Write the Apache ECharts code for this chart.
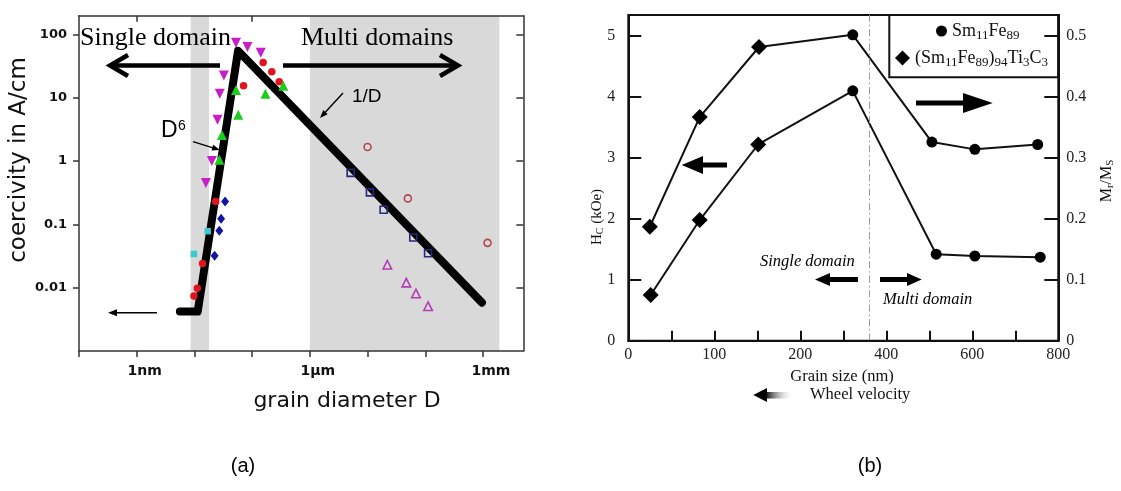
<!DOCTYPE html>
<html><head><meta charset="utf-8">
<script src="https://cdn.jsdelivr.net/npm/echarts@6/dist/echarts.min.js"></script>
<style>html,body{margin:0;padding:0;background:#fff}#c{width:1121px;height:491px}</style>
</head><body><div id="c"></div>
<script>
// ---------------- Panel (a): coercivity vs grain diameter (log-log) ----------------
const aXTickValues = [1e-10, 1e-9, 1e-8, 1e-7, 1e-6, 1e-5, 1e-4, 1e-3];
const aXLabelValues = [1e-9, 1e-6, 1e-3];
const aXLabels = ['1nm', '1µm', '1mm'];
const aTopTickValues = [1e-9, 1e-7];
const aYTickValues = [0.01, 0.1, 1, 10, 100];
const aYLabels = ['0.01', '0.1', '1', '10', '100'];
const shadedBands = [[8.6e-9, 1.79e-8], [1e-6, 1.92e-3]];
const modelLine = [[5.6e-9, 0.0042], [1.14e-8, 0.0042], [5.7e-8, 55], [9.6e-4, 0.0058]];
const magentaDown = [[5.25e-8, 74], [8.3e-8, 63], [1.41e-7, 51], [3.24e-8, 22.4], [2.75e-8, 11.5], [2.51e-8, 4.5], [2.0e-8, 1.0], [1.58e-8, 0.45]];
const redDots = [[7.1e-8, 15.5], [1.55e-7, 36], [2.19e-7, 25.7], [2.95e-7, 17.8], [2.34e-8, 0.23], [1.38e-8, 0.024], [1.12e-8, 0.0098], [9.8e-9, 0.0074]];
const greenUp = [[5.25e-8, 13.2], [5.75e-8, 5.4], [3.0e-8, 2.57], [2.7e-8, 1.05], [1.7e-7, 11.5], [3.47e-7, 15.5]];
const blueDiamonds = [[3.4e-8, 0.23], [2.9e-8, 0.123], [2.7e-8, 0.079], [2.24e-8, 0.032]];
const cyanSquares = [[1.7e-8, 0.078], [9.8e-9, 0.034]];
const openSquares = [[5.1e-6, 0.65], [1.1e-5, 0.32], [1.9e-5, 0.17], [6.2e-5, 0.062], [1.12e-4, 0.035]];
const openCircles = [[1.0e-5, 1.66], [5.0e-5, 0.257], [1.2e-3, 0.051]];
const openTriangles = [[2.2e-5, 0.023], [4.7e-5, 0.012], [6.9e-5, 0.0081], [1.12e-4, 0.0051]];

// ---------------- Panel (b): Hc and Mr/Ms vs grain size ----------------
const bXLabelPos = [0, 100, 200, 300, 400, 500];
const bXLabels = ['0', '100', '200', '400', '600', '800'];
const bLeftTicks = [0, 1, 2, 3, 4, 5];
const bRightTicks = [0, 0.1, 0.2, 0.3, 0.4, 0.5];
const mrX = [25, 83, 152, 261, 353, 403, 476];
const mrY = [0.187, 0.367, 0.482, 0.502, 0.326, 0.314, 0.322];
const hcX = [26, 83, 151, 261, 358, 403, 479];
const hcY = [0.75, 1.98, 3.22, 4.10, 1.42, 1.39, 1.37];
const alloyOf = ['ti', 'ti', 'ti', 'sm', 'sm', 'sm', 'sm'];
const domainBoundary = 280;
const nameSm = 'Sm11Fe89';
const nameTi = '(Sm11Fe89)94Ti3C3';

const sans = 'DejaVu Sans';
const serif = 'Liberation Serif';
const near = (a, b) => Math.abs(Math.log10(a) - Math.log10(b)) < 0.01;

function pick(xs, ys, kind) {
  const out = [];
  xs.forEach((x, i) => { if (alloyOf[i] === kind) out.push([x, ys[i]]); });
  return out;
}
function head(x1, y1, x2, y2, len, hw) {
  const dx = x2 - x1, dy = y2 - y1, L = Math.hypot(dx, dy);
  const ux = dx / L, uy = dy / L, bx = x2 - ux * len, by = y2 - uy * len;
  return [[x2, y2], [bx - uy * hw, by + ux * hw], [bx + uy * hw, by - ux * hw]];
}
function thinArrow(x1, y1, x2, y2, w, len, hw) {
  const L = Math.hypot(x2 - x1, y2 - y1);
  const ex = x2 - (x2 - x1) / L * len * 0.8, ey = y2 - (y2 - y1) / L * len * 0.8;
  return [
    { type: 'line', shape: { x1: x1, y1: y1, x2: ex, y2: ey }, style: { stroke: '#000', lineWidth: w } },
    { type: 'polygon', shape: { points: head(x1, y1, x2, y2, len, hw) }, style: { fill: '#000' } }
  ];
}
function txt(x, y, text, font, opts) {
  return Object.assign({ type: 'text', x: x, y: y, style: Object.assign({
    text: text, font: font, fill: '#000', align: 'left', verticalAlign: 'middle',
    textAlign: 'left', textVerticalAlign: 'middle' }, (opts && opts.style) || {}) }, (opts && opts.el) || {});
}

const axisLineA = { show: true, onZero: false, lineStyle: { color: '#333', width: 1.5 } };
const axisLineB = { show: true, onZero: false, lineStyle: { color: '#111', width: 2 } };

const chart = echarts.init(document.getElementById('c'), null, { renderer: 'canvas' });

const scatterA = (name, data, symbol, size, color, extra) => Object.assign({
  name: name, type: 'scatter', xAxisIndex: 0, yAxisIndex: 0, z: 3, data: data,
  symbol: symbol, symbolSize: size, itemStyle: { color: color, opacity: 1 }, silent: true
}, extra || {});
const hollow = (c) => ({ color: 'transparent', borderColor: c, borderWidth: 1.6, opacity: 1 });

const graphicEls = [
  // ---- panel (a) annotations ----
  txt(80, 38, 'Single domain', '26px "Liberation Serif"'),
  txt(301, 38, 'Multi domains', '26px "Liberation Serif"'),
  { type: 'polyline', shape: { points: [[220, 65.5], [112, 65.5]] }, style: { stroke: '#000', lineWidth: 4.5, fill: null } },
  { type: 'polyline', shape: { points: [[128, 55], [110, 65.5], [128, 76]] }, style: { stroke: '#000', lineWidth: 4.5, fill: null, lineJoin: 'miter' } },
  { type: 'polyline', shape: { points: [[283, 65.5], [456, 65.5]] }, style: { stroke: '#000', lineWidth: 4.5, fill: null } },
  { type: 'polyline', shape: { points: [[440, 55], [458, 65.5], [440, 76]] }, style: { stroke: '#000', lineWidth: 4.5, fill: null, lineJoin: 'miter' } },
  txt(161, 131, 'D', '23px "Liberation Sans"'),
  txt(178, 126, '6', '14px "Liberation Sans"'),
  ...thinArrow(193, 141.7, 220, 150, 1.4, 8, 3),
  txt(352, 97, '1/D', '19px "Liberation Sans"'),
  ...thinArrow(343, 93, 320, 118, 1.4, 8, 3),
  ...thinArrow(157, 312.7, 108, 312.7, 1.4, 9, 3.5),
  txt(19, 160, 'coercivity in A/cm', '23px "DejaVu Sans"', { el: { rotation: Math.PI / 2 }, style: { align: 'center', textAlign: 'center', fill: '#111' } }),
  txt(347, 401, 'grain diameter D', '22px "DejaVu Sans"', { style: { align: 'center', textAlign: 'center', fill: '#111' } }),
  txt(243, 466, '(a)', '20px "Liberation Sans"', { style: { align: 'center', textAlign: 'center' } }),
  // ---- panel (b) annotations ----
  { type: 'rect', shape: { x: 889.3, y: 15, width: 169, height: 62.3 }, style: { fill: 'none', stroke: '#111', lineWidth: 2 } },
  { type: 'text', x: 597, y: 217, rotation: Math.PI / 2, style: {
      text: '{n|H}{s|C}{n| (kOe)}', align: 'center', verticalAlign: 'middle', textAlign: 'center', textVerticalAlign: 'middle',
      rich: { n: { fontFamily: serif, fontSize: 15, fill: '#111', color: '#111' }, s: { fontFamily: serif, fontSize: 10, fill: '#111', color: '#111', padding: [7, 0, 0, 0] } } } },
  { type: 'text', x: 1107, y: 181, rotation: Math.PI / 2, style: {
      text: '{n|M}{s|r}{n|/M}{s|S}', align: 'center', verticalAlign: 'middle', textAlign: 'center', textVerticalAlign: 'middle',
      rich: { n: { fontFamily: serif, fontSize: 16, fill: '#111', color: '#111' }, s: { fontFamily: serif, fontSize: 11, fill: '#111', color: '#111', padding: [7, 0, 0, 0] } } } },
  { type: 'line', shape: { x1: 727, y1: 165, x2: 700, y2: 165 }, style: { stroke: '#000', lineWidth: 5 } },
  { type: 'polygon', shape: { points: [[681.7, 165], [703, 156], [703, 174]] }, style: { fill: '#000' } },
  { type: 'line', shape: { x1: 916, y1: 103, x2: 966, y2: 103 }, style: { stroke: '#000', lineWidth: 5 } },
  { type: 'polygon', shape: { points: [[992.7, 103], [963, 93], [963, 113]] }, style: { fill: '#000' } },
  txt(760, 262, 'Single domain', 'italic 16.5px "Liberation Serif"'),
  { type: 'line', shape: { x1: 858, y1: 279.5, x2: 828, y2: 279.5 }, style: { stroke: '#000', lineWidth: 5 } },
  { type: 'polygon', shape: { points: [[815, 279.5], [830, 273], [830, 286]] }, style: { fill: '#000' } },
  { type: 'line', shape: { x1: 880, y1: 279.5, x2: 909, y2: 279.5 }, style: { stroke: '#000', lineWidth: 5 } },
  { type: 'polygon', shape: { points: [[921.7, 279.5], [907, 273], [907, 286]] }, style: { fill: '#000' } },
  txt(883, 300, 'Multi domain', 'italic 16.5px "Liberation Serif"'),
  txt(842, 377, 'Grain size (nm)', '16.5px "Liberation Serif"', { style: { align: 'center', textAlign: 'center', fill: '#111' } }),
  { type: 'rect', shape: { x: 765, y: 392, width: 29, height: 6.5 },
    style: { fill: new echarts.graphic.LinearGradient(0, 0, 1, 0, [{ offset: 0, color: '#000' }, { offset: 1, color: 'rgba(255,255,255,0)' }]) } },
  { type: 'polygon', shape: { points: [[753.3, 395], [767, 388], [767, 402]] }, style: { fill: '#000' } },
  txt(810, 395, 'Wheel velocity', '16.5px "Liberation Serif"', { style: { fill: '#111' } }),
  txt(870, 466, '(b)', '20px "Liberation Sans"', { style: { align: 'center', textAlign: 'center' } })
].map(e => Object.assign({ z: 100, silent: true }, e));

const option = {
  animation: false,
  backgroundColor: '#fff',
  grid: [
    { left: 79, top: 15.7, width: 444.3, height: 335.3, outerBoundsMode: 'none', containLabel: false },
    { left: 628.3, top: 15, width: 430, height: 325.7, outerBoundsMode: 'none', containLabel: false,
      show: true, borderColor: '#111', borderWidth: 2, backgroundColor: 'transparent' }
  ],
  xAxis: [
    { gridIndex: 0, type: 'log', logBase: 10, min: 1e-10, max: 5.0e-3, position: 'bottom', z: 5,
      axisLine: axisLineA, splitLine: { show: false },
      axisTick: { show: true, inside: false, length: 6, customValues: aXTickValues, lineStyle: { color: '#333', width: 1.5 } },
      axisLabel: { show: true, customValues: aXLabelValues, margin: 13, padding: [0, 0, 0, 16],
        fontFamily: sans, fontWeight: 'bold', fontSize: 14, color: '#111',
        formatter: v => { const i = aXLabelValues.findIndex(t => near(t, v)); return i < 0 ? '' : aXLabels[i]; } } },
    { gridIndex: 0, type: 'log', logBase: 10, min: 1e-10, max: 5.0e-3, position: 'top', z: 5,
      axisLine: axisLineA, splitLine: { show: false },
      axisTick: { show: true, inside: true, length: 6, customValues: aTopTickValues, lineStyle: { color: '#333', width: 1.5 } },
      axisLabel: { show: false } },
    { gridIndex: 1, type: 'value', min: 0, max: 500, interval: 50, position: 'bottom', z: 5,
      axisLine: axisLineB, splitLine: { show: false },
      axisTick: { show: true, inside: true, length: 10, lineStyle: { color: '#111', width: 2 } },
      axisLabel: { show: true, customValues: bXLabelPos, margin: 6, fontFamily: serif, fontSize: 16, color: '#222',
        formatter: v => { const i = bXLabelPos.indexOf(v); return i < 0 ? '' : bXLabels[i]; } } }
  ],
  yAxis: [
    { gridIndex: 0, type: 'log', logBase: 10, min: 1e-3, max: 197, position: 'left', z: 5,
      axisLine: axisLineA, splitLine: { show: false },
      axisTick: { show: true, inside: false, length: 6, customValues: aYTickValues, lineStyle: { color: '#333', width: 1.5 } },
      axisLabel: { show: true, customValues: aYTickValues, margin: 12, fontFamily: sans, fontWeight: 'bold', fontSize: 13, color: '#111',
        formatter: v => { const i = aYTickValues.findIndex(t => near(t, v)); return i < 0 ? '' : aYLabels[i]; } } },
    { gridIndex: 0, type: 'log', logBase: 10, min: 1e-3, max: 197, position: 'right', z: 5,
      axisLine: axisLineA, splitLine: { show: false },
      axisTick: { show: true, inside: true, length: 7, customValues: aYTickValues, lineStyle: { color: '#333', width: 1.5 } },
      axisLabel: { show: false } },
    { gridIndex: 1, type: 'value', min: 0, max: 5.345, position: 'left', z: 5,
      axisLine: axisLineB, splitLine: { show: false },
      axisTick: { show: true, inside: true, length: 13, customValues: bLeftTicks, lineStyle: { color: '#111', width: 2 } },
      axisLabel: { show: true, customValues: bLeftTicks, margin: 13, fontFamily: serif, fontSize: 16, color: '#222',
        formatter: v => String(v) } },
    { gridIndex: 1, type: 'value', min: 0, max: 0.5345, position: 'right', z: 5,
      axisLine: axisLineB, splitLine: { show: false },
      axisTick: { show: true, inside: true, length: 14, customValues: bRightTicks, lineStyle: { color: '#111', width: 2 } },
      axisLabel: { show: true, customValues: bRightTicks, margin: 8, fontFamily: serif, fontSize: 16, color: '#222',
        formatter: v => v === 0 ? '0' : v.toFixed(1) } }
  ],
  legend: [
    { data: [nameSm], left: 936, top: 22, padding: 0, itemWidth: 11, itemHeight: 11, icon: 'circle', selectedMode: false,
      itemStyle: { opacity: 1, color: '#000' },
      textStyle: { fontFamily: serif, fontSize: 18, color: '#111',
        rich: { n: { fontFamily: serif, fontSize: 18, color: '#111' }, s: { fontFamily: serif, fontSize: 13, color: '#111', padding: [9, 0, 0, 0] } } },
      formatter: () => '{n|Sm}{s|11}{n|Fe}{s|89}' },
    { data: [nameTi], left: 895, top: 49, padding: 0, itemWidth: 15, itemHeight: 15, icon: 'diamond', selectedMode: false,
      itemStyle: { opacity: 1, color: '#000' },
      textStyle: { fontFamily: serif, fontSize: 18, color: '#111',
        rich: { n: { fontFamily: serif, fontSize: 18, color: '#111' }, s: { fontFamily: serif, fontSize: 13, color: '#111', padding: [9, 0, 0, 0] } } },
      formatter: () => '{n|(Sm}{s|11}{n|Fe}{s|89}{n|)}{s|94}{n|Ti}{s|3}{n|C}{s|3}' }
  ],
  series: [
    // Panel (a)
    { name: 'model', type: 'line', xAxisIndex: 0, yAxisIndex: 0, z: 2, data: modelLine, symbol: 'none', silent: true,
      lineStyle: { color: '#000', width: 8, cap: 'round', join: 'round', opacity: 1 },
      markArea: { silent: true, z: 1, itemStyle: { color: '#d9d9d9', opacity: 1 },
        data: shadedBands.map(b => [{ xAxis: b[0] }, { xAxis: b[1] }]) } },
    scatterA('magentaDown', magentaDown, 'triangle', 10, '#c81ec8', { symbolRotate: 180 }),
    scatterA('redDots', redDots, 'circle', 7.5, '#e0141e'),
    scatterA('greenUp', greenUp, 'triangle', 10, '#1ecc1e'),
    scatterA('blueDiamonds', blueDiamonds, 'diamond', [8, 10], '#1414a0'),
    scatterA('cyanSquares', cyanSquares, 'rect', 6.5, '#3cc8d2'),
    scatterA('openSquares', openSquares, 'rect', 7, '#28287a', { itemStyle: hollow('#28287a') }),
    scatterA('openCircles', openCircles, 'circle', 7, '#b4464b', { itemStyle: hollow('#b4464b') }),
    scatterA('openTriangles', openTriangles, 'triangle', 8.5, '#b43cb4', { itemStyle: hollow('#b43cb4') }),
    // Panel (b)
    { name: 'MrMsLine', type: 'line', xAxisIndex: 2, yAxisIndex: 3, data: mrX.map((x, i) => [x, mrY[i]]),
      symbol: 'none', silent: true, z: 2, lineStyle: { color: '#111', width: 2 } },
    { name: 'HcLine', type: 'line', xAxisIndex: 2, yAxisIndex: 2, data: hcX.map((x, i) => [x, hcY[i]]),
      symbol: 'none', silent: true, z: 2, lineStyle: { color: '#111', width: 2 },
      markLine: { silent: true, symbol: ['none', 'none'], label: { show: false },
        lineStyle: { color: '#9a9a9a', width: 1, type: [7, 3, 1.5, 3] }, data: [{ xAxis: domainBoundary }] } },
    { name: nameSm, type: 'scatter', xAxisIndex: 2, yAxisIndex: 3, z: 3, data: pick(mrX, mrY, 'sm'),
      symbol: 'circle', symbolSize: 11, itemStyle: { color: '#000', opacity: 1 }, silent: true },
    { name: nameSm, type: 'scatter', xAxisIndex: 2, yAxisIndex: 2, z: 3, data: pick(hcX, hcY, 'sm'),
      symbol: 'circle', symbolSize: 11, itemStyle: { color: '#000', opacity: 1 }, silent: true },
    { name: nameTi, type: 'scatter', xAxisIndex: 2, yAxisIndex: 3, z: 3, data: pick(mrX, mrY, 'ti'),
      symbol: 'diamond', symbolSize: 16, itemStyle: { color: '#000', opacity: 1 }, silent: true },
    { name: nameTi, type: 'scatter', xAxisIndex: 2, yAxisIndex: 2, z: 3, data: pick(hcX, hcY, 'ti'),
      symbol: 'diamond', symbolSize: 16, itemStyle: { color: '#000', opacity: 1 }, silent: true }
  ],
  graphic: graphicEls
};
chart.setOption(option);
</script>
</body></html>
